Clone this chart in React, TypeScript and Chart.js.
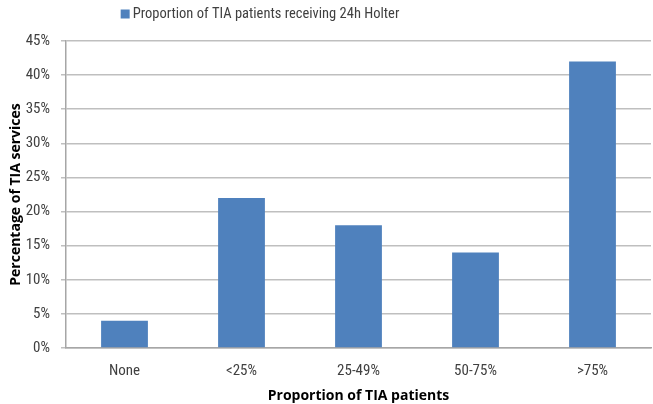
import React, { useEffect, useRef } from "react";
import { Chart, registerables } from "chart.js";

Chart.register(...registerables);

const categories = ["None", "<25%", "25-49%", "50-75%", ">75%"];
const seriesLabel = "Proportion of TIA patients receiving 24h Holter";
const seriesValues = [4, 22, 18, 14, 42];
const yTitle = "Percentage of TIA services";
const xTitle = "Proportion of TIA patients";

const FONT = "'Roboto Condensed', 'Open Sans', sans-serif";
const BOLD_FONT = "'Open Sans', 'DejaVu Sans', sans-serif";
const BAR = "#4F81BD";
const TEXT = "#404040";

const legendPlugin = {
  id: "customLegend",
  afterDraw(chart: any) {
    const ctx = chart.ctx;
    ctx.save();
    ctx.font = `14.5px ${FONT}`;
    const w = ctx.measureText(seriesLabel).width;
    const box = 9;
    const gap = 3;
    const total = box + gap + w;
    const cx = 260;
    const x0 = cx - total / 2;
    const y = 14;
    ctx.fillStyle = BAR;
    ctx.fillRect(x0, y - box / 2, box, box);
    ctx.fillStyle = TEXT;
    ctx.textBaseline = "middle";
    ctx.textAlign = "left";
    ctx.fillText(seriesLabel, x0 + box + gap, y);
    ctx.restore();
  },
};

export default function App() {
  const ref = useRef<HTMLCanvasElement>(null);
  useEffect(() => {
    document.body.style.margin = "0";
    const chart = new Chart(ref.current!, {
      type: "bar",
      data: {
        labels: categories,
        datasets: [
          {
            label: seriesLabel,
            data: seriesValues,
            backgroundColor: BAR,
            borderWidth: 0,
            categoryPercentage: 1,
            barPercentage: 0.4,
          },
        ],
      },
      options: {
        animation: false,
        responsive: false,
        devicePixelRatio: 1,
        layout: { padding: { top: 41, right: 2, left: 0, bottom: 0 } },
        plugins: {
          legend: { display: false },
          tooltip: { enabled: false },
        },
        scales: {
          x: {
            grid: { display: false, drawTicks: false },
            border: { color: "#A6A6A6", width: 1.5 },
            ticks: { color: TEXT, font: { family: FONT, size: 15 }, padding: 14 },
            title: {
              display: true,
              text: xTitle,
              color: "#000",
              font: { family: BOLD_FONT, size: 14, weight: "bold" },
              padding: { top: 3, bottom: 0 },
            },
            afterFit: (s: any) => {
              s.height = 56;
            },
          },
          y: {
            min: 0,
            max: 45,
            ticks: {
              stepSize: 5,
              color: TEXT,
              font: { family: FONT, size: 15 },
              padding: 11,
              callback: (v: any) => v + "%",
            },
            grid: { color: "#BFBFBF", lineWidth: 1.5, tickLength: 5 },
            border: { color: "#A6A6A6", width: 1.5 },
            title: {
              display: true,
              text: yTitle,
              color: "#000",
              font: { family: BOLD_FONT, size: 14, weight: "bold" },
              padding: { top: 8, bottom: 0 },
            },
            afterFit: (s: any) => {
              s.width = 66;
            },
          },
        },
      },
      plugins: [legendPlugin],
    });
    return () => chart.destroy();
  }, []);
  return (
    <div style={{ width: 653, height: 404 }}>
      <canvas ref={ref} width={653} height={404} />
    </div>
  );
}
